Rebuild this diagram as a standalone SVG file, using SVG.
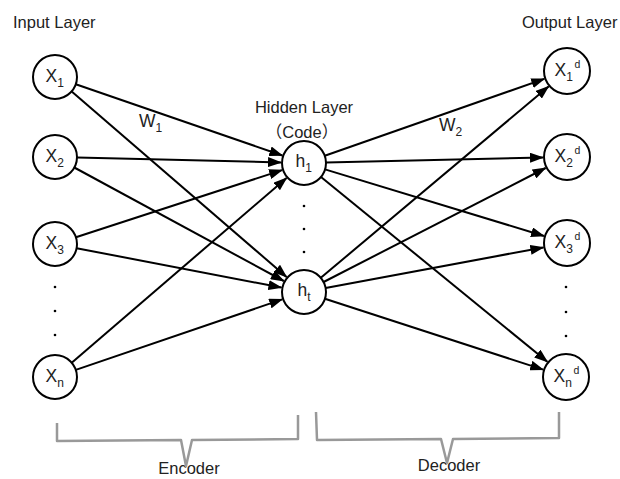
<svg xmlns="http://www.w3.org/2000/svg" width="620" height="479" viewBox="0 0 620 479">
<defs>
<marker id="ah" markerUnits="userSpaceOnUse" markerWidth="14" markerHeight="10" refX="13" refY="5" orient="auto"><path d="M0,0 L14,5 L0,10 z" fill="#000"/></marker>
</defs>
<style>
.node circle{fill:#fff;stroke:#000;stroke-width:2}
.lbl{font-family:"Liberation Sans",Arial,sans-serif;font-size:17.5px;fill:#222}
.sub{font-size:12px}
.sup{font-size:10.5px}
.title{font-family:"Liberation Sans","Noto Sans CJK SC",sans-serif;font-size:16.5px;fill:#222}
.edges line{stroke:#000;stroke-width:2;marker-end:url(#ah)}
.brace{fill:none;stroke:#999;stroke-width:2.5;stroke-linejoin:round}
.dot{fill:#000}
</style>
<rect width="620" height="479" fill="#fff"/>
<g id="titles">
<text class="title" x="13" y="28">Input Layer</text>
<text class="title" x="522" y="28">Output Layer</text>
<text class="title" x="304" y="113" text-anchor="middle">Hidden Layer</text>
<text class="title" x="302" y="138" text-anchor="middle">（Code）</text>
<text class="lbl" x="139" y="127">W<tspan class="sub" dy="5">1</tspan></text>
<text class="lbl" x="439" y="131">W<tspan class="sub" dy="5">2</tspan></text>
<text class="title" x="189" y="474" text-anchor="middle">Encoder</text>
<text class="title" x="449" y="471" text-anchor="middle">Decoder</text>
</g>
<g id="connectors" class="edges">
<line x1="75.8" y1="84.2" x2="282.3" y2="155.5"/>
<line x1="71.7" y1="91.4" x2="286.6" y2="277.0"/>
<line x1="77.0" y1="157.5" x2="281.0" y2="162.4"/>
<line x1="74.3" y1="167.5" x2="283.8" y2="281.0"/>
<line x1="75.9" y1="237.2" x2="282.1" y2="170.1"/>
<line x1="76.6" y1="248.2" x2="281.4" y2="287.6"/>
<line x1="71.7" y1="362.7" x2="286.6" y2="178.0"/>
<line x1="75.8" y1="369.9" x2="282.2" y2="299.4"/>
<line x1="324.8" y1="155.7" x2="544.3" y2="78.9"/>
<line x1="326.0" y1="162.5" x2="543.0" y2="157.5"/>
<line x1="325.0" y1="169.4" x2="544.0" y2="236.0"/>
<line x1="321.0" y1="176.9" x2="547.4" y2="361.8"/>
<line x1="320.8" y1="277.8" x2="548.6" y2="86.4"/>
<line x1="323.6" y1="282.0" x2="545.6" y2="168.0"/>
<line x1="325.6" y1="288.0" x2="543.4" y2="247.4"/>
<line x1="324.9" y1="298.8" x2="543.2" y2="369.6"/>
</g>
<g id="x1" class="node"><circle cx="55" cy="77" r="22"/><text class="lbl" x="45.5" y="82">X<tspan class="sub" dy="5">1</tspan></text></g>
<g id="x2" class="node"><circle cx="55" cy="157" r="22"/><text class="lbl" x="45.5" y="162">X<tspan class="sub" dy="5">2</tspan></text></g>
<g id="x3" class="node"><circle cx="55" cy="244" r="22"/><text class="lbl" x="45.5" y="249">X<tspan class="sub" dy="5">3</tspan></text></g>
<g id="xn" class="node"><circle cx="55" cy="377" r="22"/><text class="lbl" x="45.5" y="382">X<tspan class="sub" dy="5">n</tspan></text></g>
<g id="h1" class="node"><circle cx="304" cy="163" r="22"/><text class="lbl" x="295.5" y="167">h<tspan class="sub" dy="5">1</tspan></text></g>
<g id="ht" class="node"><circle cx="304" cy="292" r="22"/><text class="lbl" x="297.5" y="296">h<tspan class="sub" dy="5">t</tspan></text></g>
<g id="o1" class="node"><circle cx="567" cy="71" r="23"/><text class="lbl" x="554.5" y="76">X<tspan class="sub" dy="5">1</tspan><tspan class="sup" dx="1.5" dy="-13">d</tspan></text></g>
<g id="o2" class="node"><circle cx="567" cy="157" r="23"/><text class="lbl" x="554.5" y="162">X<tspan class="sub" dy="5">2</tspan><tspan class="sup" dx="1.5" dy="-13">d</tspan></text></g>
<g id="o3" class="node"><circle cx="567" cy="243" r="23"/><text class="lbl" x="554.5" y="248">X<tspan class="sub" dy="5">3</tspan><tspan class="sup" dx="1.5" dy="-13">d</tspan></text></g>
<g id="on" class="node"><circle cx="566" cy="377" r="23"/><text class="lbl" x="553.5" y="382">X<tspan class="sub" dy="5">n</tspan><tspan class="sup" dx="1.5" dy="-13">d</tspan></text></g>
<g id="dots">
<circle class="dot" cx="55" cy="287" r="1.3"/><circle class="dot" cx="55" cy="311" r="1.3"/><circle class="dot" cx="55" cy="335" r="1.3"/>
<circle class="dot" cx="304" cy="206" r="1.3"/><circle class="dot" cx="304" cy="229" r="1.3"/><circle class="dot" cx="304" cy="252" r="1.3"/>
<circle class="dot" cx="566" cy="287" r="1.3"/><circle class="dot" cx="566" cy="312" r="1.3"/><circle class="dot" cx="566" cy="336" r="1.3"/>
</g>
<g id="brackets">
<path class="brace" d="M57,423 L57,441 L181,440 L186,466 L192,440 L298,439 L298,415"/>
<path class="brace" d="M316,412 L317,440 L441,439 L447,463 L453,439 L559,438 L559,412"/>
</g>
</svg>
